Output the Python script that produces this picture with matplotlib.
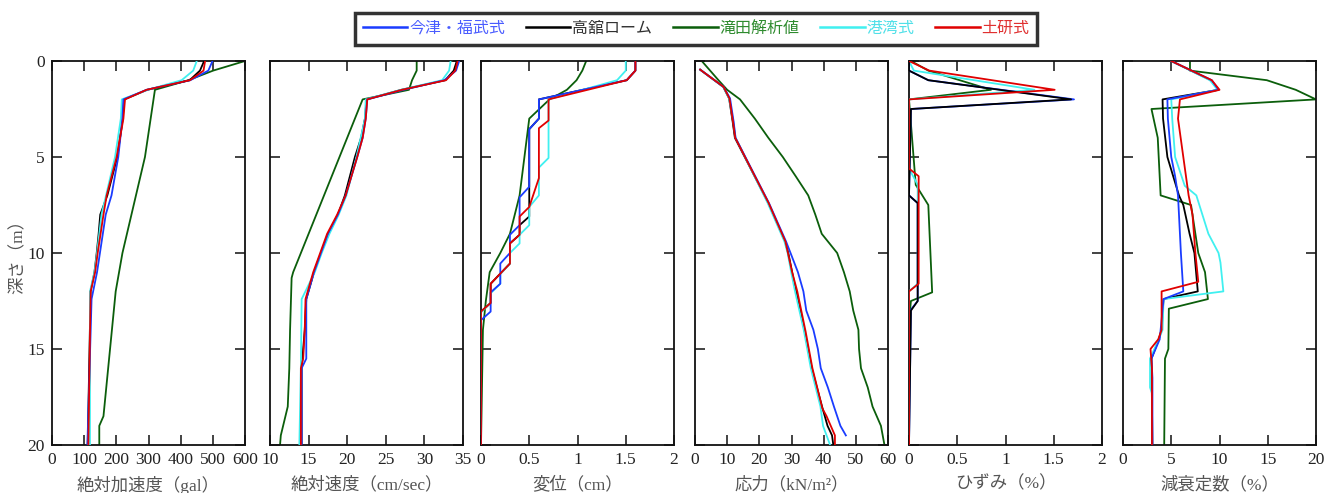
import matplotlib
matplotlib.use("Agg")
import matplotlib.pyplot as plt
from matplotlib.ticker import FuncFormatter
from matplotlib.lines import Line2D

plt.rcParams['font.family'] = ['Liberation Serif', 'Noto Sans CJK JP']

# depth (m), value pairs for each method
methods = ["今津・福武式", "高舘ローム", "滝田解析値", "港湾式", "土研式"]
line_colors = ["#1a3cff", "#000000", "#0b5e0b", "#40f0f0", "#e00000"]
text_colors = ["#4a5cff", "#303030", "#2e8b2e", "#50e0e8", "#e03030"]

# absolute acceleration (gal)
acc_imazu = [(0, 499), (0.5, 486), (1.0, 430), (1.5, 294), (2.0, 222), (3.0, 219), (5.0, 206),
             (7.0, 185), (8.0, 167), (10.0, 149), (11.0, 140), (12.4, 123), (20.0, 110)]
acc_takadate = [(0, 473), (0.5, 460), (1.0, 428), (1.5, 296), (2.0, 224), (3.0, 220), (5.0, 203),
                (7.0, 172), (8.0, 150), (9.0, 145), (10.0, 139), (11.0, 132), (12.0, 120), (20.0, 111)]
acc_takita = [(0, 600), (0.5, 501), (1.0, 424), (1.5, 320), (5.0, 289), (10.0, 219), (12.0, 198),
              (18.5, 160), (19.0, 147), (20.0, 147)]
acc_kowan = [(0, 450), (0.5, 439), (1.0, 403), (1.5, 298), (2.0, 217), (3.0, 214), (5.0, 196),
             (7.0, 168), (8.0, 154), (10.0, 140), (11.0, 132), (12.0, 118), (20.0, 118)]
acc_doken = [(0, 476), (0.5, 471), (1.0, 429), (1.5, 294), (2.0, 227), (3.0, 222), (5.0, 201),
             (7.0, 170), (8.0, 160), (10.0, 142), (11.0, 134), (12.0, 120), (20.0, 113)]

# absolute velocity (cm/sec)
vel_imazu = [(0, 34.5), (0.5, 34.1), (1.0, 32.6), (1.5, 27.3), (2.0, 22.6), (3.0, 22.4), (4.0, 22.0),
             (5.0, 21.3), (7.0, 19.8), (8.0, 18.8), (9.0, 17.5), (10.0, 16.6), (11.0, 15.7),
             (12.4, 14.7), (15.5, 14.7), (16.0, 14.1), (20.0, 14.1)]
vel_takadate = [(0, 34.2), (0.5, 33.8), (1.0, 32.7), (1.5, 27.0), (2.0, 22.5), (3.0, 22.3), (4.0, 21.8),
                (5.0, 21.0), (7.0, 19.7), (8.0, 18.8), (9.0, 17.6), (10.0, 16.6), (11.0, 15.7),
                (12.4, 14.7), (14.0, 14.5), (16.0, 14.1), (20.0, 14.1)]
vel_takita = [(0, 29.0), (0.5, 29.0), (1.0, 28.4), (1.5, 28.0), (2.0, 22.0), (11.0, 13.0),
              (11.3, 12.8), (14.0, 12.6), (16.0, 12.5), (18.0, 12.3), (19.5, 11.4), (20.0, 11.3)]
vel_kowan = [(0, 33.4), (0.5, 33.2), (1.0, 32.3), (1.5, 27.0), (2.0, 22.4), (3.0, 22.3), (5.0, 21.2),
             (7.0, 19.9), (8.0, 18.9), (9.0, 17.7), (10.0, 16.7), (11.0, 15.8), (12.4, 14.1),
             (16.0, 14.0), (20.0, 13.8)]
vel_doken = [(0, 34.3), (0.5, 34.0), (1.0, 32.8), (1.5, 27.1), (2.0, 22.6), (3.0, 22.4), (4.0, 22.0),
             (5.0, 21.3), (7.0, 19.8), (8.0, 18.7), (9.0, 17.4), (10.0, 16.5), (11.0, 15.6),
             (12.4, 14.6), (14.0, 14.5), (15.5, 14.3), (16.0, 14.0), (20.0, 14.0)]

# displacement (cm)
disp_imazu = [(0, 1.60), (0.5, 1.60), (1.0, 1.51), (2.0, 0.60), (3.0, 0.60), (3.55, 0.50), (6.55, 0.50),
              (7.1, 0.40), (8.55, 0.40), (9.05, 0.30), (10.0, 0.30), (10.55, 0.20), (11.6, 0.20),
              (12.05, 0.10), (13.05, 0.10), (13.5, 0.0), (20.0, 0.0)]
disp_takadate = [(0, 1.60), (0.5, 1.60), (1.0, 1.51), (2.0, 0.60), (3.0, 0.60), (3.55, 0.50),
                 (8.1, 0.50), (8.55, 0.40), (9.05, 0.40), (9.5, 0.30), (10.55, 0.30), (11.6, 0.10),
                 (12.6, 0.10), (13.05, 0.0), (20.0, 0.0)]
disp_takita = [(0, 1.09), (0.5, 1.05), (1.0, 0.99), (1.5, 0.89), (2.0, 0.71), (3.0, 0.50), (7.0, 0.40),
               (8.0, 0.35), (9.0, 0.30), (10.0, 0.20), (11.0, 0.09), (12.5, 0.05), (14.0, 0.02),
               (20.0, 0.0)]
disp_kowan = [(0, 1.50), (0.5, 1.50), (1.0, 1.41), (2.0, 0.70), (5.05, 0.70), (5.55, 0.60), (7.0, 0.60),
              (7.6, 0.50), (8.55, 0.50), (9.05, 0.40), (9.5, 0.40), (10.0, 0.30), (10.55, 0.30),
              (11.1, 0.20), (11.6, 0.20), (12.1, 0.10), (12.6, 0.10), (13.1, 0.0), (20.0, 0.0)]
disp_doken = [(0, 1.60), (0.5, 1.60), (1.0, 1.51), (2.0, 0.70), (3.1, 0.70), (3.5, 0.60), (6.1, 0.60),
              (7.6, 0.50), (8.1, 0.40), (9.05, 0.40), (9.5, 0.30), (10.55, 0.30), (11.6, 0.10),
              (12.6, 0.10), (13.05, 0.0), (20.0, 0.0)]

# stress (kN/m2)
str_imazu = [(0.45, 1.6), (1.35, 8.9), (1.95, 10.9), (3.15, 12.0), (4.0, 12.6), (7.4, 23.0),
             (9.4, 28.3), (10.0, 29.7), (11.0, 32.0), (12.0, 33.7), (13.0, 34.6), (14.0, 36.8),
             (15.0, 38.2), (16.0, 39.1), (17.0, 41.3), (18.0, 43.2), (19.0, 45.2), (19.5, 46.9)]
str_takadate = [(0.45, 1.6), (1.35, 8.8), (1.95, 10.6), (3.15, 11.7), (4.0, 12.4), (7.4, 22.8),
                (9.4, 28.0), (10.0, 29.0), (12.0, 31.4), (14.0, 34.0), (16.0, 36.3), (18.0, 39.5),
                (19.0, 41.2), (19.5, 42.6), (20.0, 43.0)]
str_takita = [(0, 2.1), (0.5, 4.7), (1.0, 7.3), (1.5, 10.0), (2.0, 14.0), (3.0, 18.6), (4.0, 22.8),
              (5.0, 27.3), (6.0, 31.3), (7.0, 35.2), (8.0, 37.4), (9.0, 39.4), (10.0, 44.2),
              (11.0, 46.3), (12.0, 48.1), (13.0, 49.2), (14.0, 50.8), (15.0, 51.0), (16.0, 51.6),
              (17.0, 53.7), (18.0, 55.2), (19.0, 57.8), (20.0, 58.9)]
str_kowan = [(0.45, 1.6), (1.35, 8.8), (1.95, 10.6), (3.15, 11.9), (4.0, 12.6), (7.4, 22.6),
             (9.4, 27.8), (10.0, 28.8), (11.0, 29.9), (12.0, 31.1), (14.0, 33.8), (16.0, 36.0),
             (18.0, 39.0), (19.0, 39.8), (20.0, 42.0)]
str_doken = [(0.45, 1.6), (1.35, 8.9), (1.95, 10.7), (3.15, 11.8), (4.0, 12.5), (7.4, 22.9),
             (9.4, 28.1), (11.0, 30.2), (12.0, 31.8), (14.1, 34.4), (16.0, 36.5), (18.1, 39.6),
             (18.5, 40.9), (19.0, 42.2), (19.5, 43.5), (20.0, 43.5)]

# strain (%)
strain_imazu = [(0, 0.0), (0.5, 0.0), (1.0, 0.20), (2.0, 1.71), (2.5, 0.02), (7.0, 0.0), (7.4, 0.09),
                (12.5, 0.09), (12.95, 0.02), (20.0, 0.0)]
strain_takadate = [(0, 0.0), (0.5, 0.0), (1.0, 0.20), (2.0, 1.68), (2.5, 0.02), (7.0, 0.0),
                   (7.4, 0.09), (12.5, 0.09), (13.0, 0.02), (20.0, 0.0)]
strain_takita = [(0, 0.02), (0.5, 0.20), (1.5, 0.85), (2.0, 0.0), (6.45, 0.07), (7.5, 0.20),
                 (12.05, 0.24), (12.5, 0.02), (13.5, 0.0), (20.0, 0.0)]
strain_kowan = [(0, 0.0), (0.5, 0.05), (1.5, 1.30), (2.0, 0.0), (5.6, 0.0), (6.45, 0.09),
                (11.6, 0.09), (12.0, 0.0), (20.0, 0.0)]
strain_doken = [(0, 0.0), (0.5, 0.21), (1.5, 1.51), (2.0, 0.0), (5.6, 0.0), (6.0, 0.10),
                (11.6, 0.10), (12.0, 0.0), (20.0, 0.0)]

# damping ratio (%)
damp_imazu = [(0, 5.0), (1.0, 9.2), (1.5, 9.9), (2.0, 4.6), (3.0, 4.65), (5.0, 5.0), (6.0, 5.4),
              (7.0, 5.7), (10.0, 6.0), (12.0, 6.25), (12.4, 4.2), (14.0, 3.9), (14.5, 3.8),
              (15.5, 2.95), (16.5, 3.05), (20.0, 3.05)]
damp_takadate = [(0, 5.0), (1.0, 9.1), (1.5, 9.9), (2.0, 4.1), (3.0, 4.15), (5.0, 4.6), (6.0, 5.2),
                 (7.0, 5.8), (7.5, 6.25), (9.0, 6.9), (10.0, 7.4), (12.0, 7.75), (12.4, 4.2),
                 (14.0, 4.0), (14.5, 3.7), (15.5, 2.95), (20.0, 3.05)]
damp_takita = [(0, 6.94), (0.5, 6.94), (1.0, 14.9), (1.5, 17.9), (2.0, 20.0), (2.5, 2.95), (4.0, 3.6),
               (5.0, 3.7), (7.0, 3.9), (7.5, 7.05), (10.0, 7.8), (11.0, 8.5), (12.4, 8.8),
               (12.9, 4.75), (15.0, 4.7), (15.5, 4.35), (20.0, 4.27)]
damp_kowan = [(0, 5.0), (1.0, 9.0), (1.5, 9.8), (2.0, 5.0), (3.0, 5.1), (5.0, 5.4), (6.5, 6.4),
              (7.0, 7.6), (9.0, 8.85), (10.0, 9.9), (10.5, 10.1), (12.0, 10.4), (12.4, 4.2),
              (14.0, 4.1), (14.5, 3.7), (15.5, 2.8), (17.0, 2.8), (17.3, 3.0), (20.0, 3.0)]
damp_doken = [(0, 5.0), (1.0, 9.2), (1.5, 10.0), (2.0, 5.9), (3.0, 5.7), (5.0, 6.25), (7.0, 6.8),
              (8.0, 7.2), (10.0, 7.5), (11.5, 7.8), (12.0, 4.0), (14.0, 4.0), (14.5, 3.65),
              (15.0, 2.85), (16.0, 3.0), (20.0, 3.0)]

panels = [
    ("絶対加速度（gal）", (0, 600), [0, 100, 200, 300, 400, 500, 600],
     [acc_imazu, acc_takadate, acc_takita, acc_kowan, acc_doken]),
    ("絶対速度（cm/sec）", (10, 35), [10, 15, 20, 25, 30, 35],
     [vel_imazu, vel_takadate, vel_takita, vel_kowan, vel_doken]),
    ("変位（cm）", (0, 2), [0, 0.5, 1, 1.5, 2],
     [disp_imazu, disp_takadate, disp_takita, disp_kowan, disp_doken]),
    ("応力（kN/m²）", (0, 60), [0, 10, 20, 30, 40, 50, 60],
     [str_imazu, str_takadate, str_takita, str_kowan, str_doken]),
    ("ひずみ（%）", (0, 2), [0, 0.5, 1, 1.5, 2],
     [strain_imazu, strain_takadate, strain_takita, strain_kowan, strain_doken]),
    ("減衰定数（%）", (0, 20), [0, 5, 10, 15, 20],
     [damp_imazu, damp_takadate, damp_takita, damp_kowan, damp_doken]),
]

W, H = 1336, 493
fig = plt.figure(figsize=(W / 100, H / 100), dpi=100)
lefts = [52, 270, 481, 695, 909, 1123]
pw = 193
top_px, bot_px = 61, 445

for i, (xlabel, xlim, xticks, series) in enumerate(panels):
    ax = fig.add_axes([lefts[i] / W, 1 - bot_px / H, pw / W, (bot_px - top_px) / H])
    # black sits above blue only in the strain panel
    zorders = [4, 4.2 if i == 4 else 3, 2, 3.5, 5]
    for j, pts in enumerate(series):
        d = [p[0] for p in pts]
        v = [p[1] for p in pts]
        ax.plot(v, d, color=line_colors[j], lw=1.3, zorder=zorders[j])
    ax.set_xlim(*xlim)
    ax.set_ylim(20, 0)
    ax.set_xticks(xticks)
    ax.set_yticks([0, 5, 10, 15, 20])
    ax.xaxis.set_major_formatter(FuncFormatter(lambda x, p: f"{x:g}"))
    ax.tick_params(direction="in", top=True, right=True, length=7, width=1.2,
                   labelsize=12.5, colors="#222222", pad=5)
    for s in ax.spines.values():
        s.set_linewidth(1.3)
        s.set_color("#111111")
    ax.set_xlabel(xlabel, fontsize=12.5, color="#555555", labelpad=6)
    if i == 0:
        ax.set_ylabel("深さ（m）", fontsize=12.5, color="#555555", labelpad=1)
    else:
        ax.tick_params(labelleft=False)

handles = [Line2D([], [], color=c, lw=1.8) for c in line_colors]
leg = fig.legend(handles, methods, loc="center", bbox_to_anchor=(696 / W, 1 - 29 / H),
                 ncol=5, fontsize=11.5, frameon=True, fancybox=False, handlelength=2.8,
                 handletextpad=0.1, columnspacing=1.3, borderpad=0.5)
leg.get_frame().set_edgecolor("black")
leg.get_frame().set_linewidth(2.5)
for t, c in zip(leg.get_texts(), text_colors):
    t.set_color(c)

fig.savefig("out.png", dpi=100, facecolor="white")
